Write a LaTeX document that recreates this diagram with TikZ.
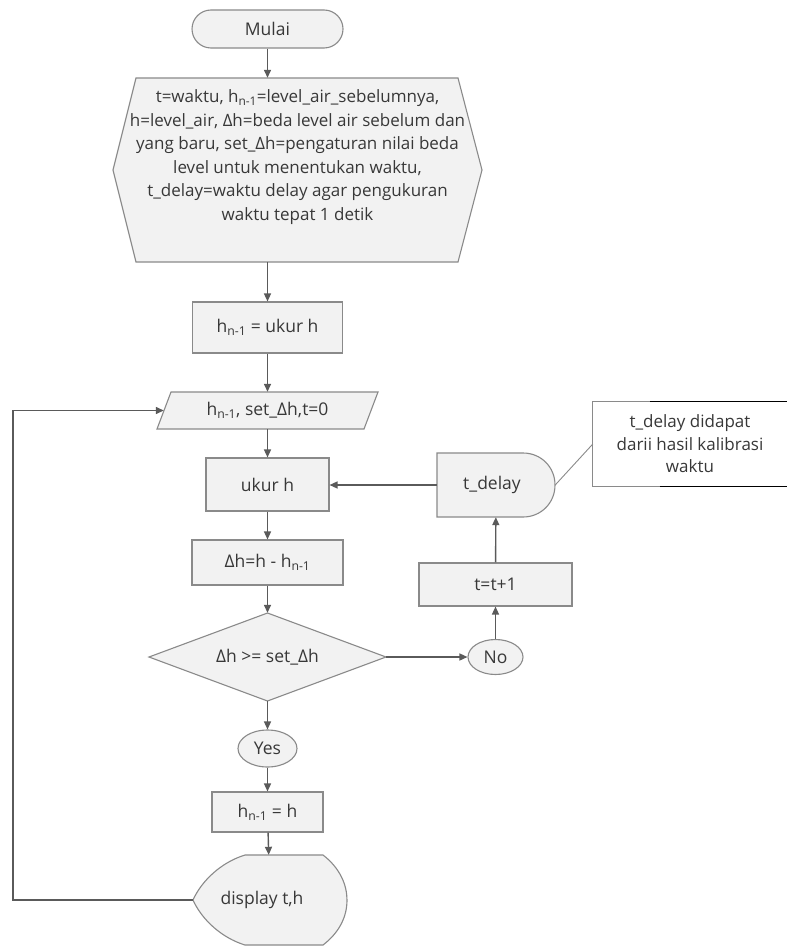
\documentclass[tikz,border=0pt]{standalone}
\usepackage{fontspec}
\setmainfont{Open Sans}
\usetikzlibrary{arrows.meta,shapes.geometric}
\definecolor{edgec}{HTML}{8A8A8A}
\definecolor{arrc}{HTML}{5A5A5A}
\definecolor{txtc}{HTML}{383838}
\definecolor{fillg}{HTML}{F2F2F2}
\newcommand{\nsub}{\textsubscript{n-1}}
\begin{document}
\begin{tikzpicture}[x=1pt,y=-1pt,
  base/.style={font=\fontsize{17.5}{21}\selectfont, text=txtc, inner sep=0pt},
  shp/.style={base, draw=edgec, fill=fillg, line width=1.1pt},
  ghost/.style={base, draw=none, fill=none},
  outline/.style={draw=edgec, fill=fillg, line width=1.1pt},
  flow/.style={draw=arrc, line width=1.4pt, -{Triangle[length=8pt,width=7pt]}},
  thinline/.style={draw=edgec, line width=0.9pt}]
\useasboundingbox[fill=white] (0,0) rectangle (787,947);

% start
\node[shp, rounded corners=19pt, minimum width=151pt, minimum height=38pt] (mulai) at (267.5,29) {Mulai};

% preparation hexagon
\path[outline] (136,78) -- (458,78) -- (482,170) -- (458,262) -- (136,262) -- (113,170) -- cycle;
\node[ghost, minimum width=369pt, minimum height=184pt, align=center,
      font=\fontsize{17}{23.5}\selectfont] (hex) at (297.5,170)
  {t=waktu, h\nsub=level\_air\_sebelumnya,\\
   h=level\_air, Δh=beda level air sebelum dan\\
   yang baru, set\_Δh=pengaturan nilai beda\\
   level untuk menentukan waktu,\\
   t\_delay=waktu delay agar pengukuran\\
   waktu tepat 1 detik\\[6pt]\mbox{}};

\node[shp, minimum width=150pt, minimum height=51pt] (b1) at (267.5,327.5) {h\nsub{} = ukur h};

% input parallelogram
\path[outline] (171,392) -- (378,392) -- (364,429) -- (157,429) -- cycle;
\node[ghost, minimum width=207pt, minimum height=37pt] (para) at (267.5,410.5) {h\nsub, set\_Δh,t=0};

\node[shp, minimum width=123pt, minimum height=53pt] (ukur) at (267.5,484.5) {ukur h};
\node[shp, minimum width=151pt, minimum height=45pt] (dh) at (267.5,562.5) {Δh=h - h\nsub};

% decision
\path[outline] (267.5,613) -- (386,657) -- (267.5,701) -- (149,657) -- cycle;
\node[ghost, minimum width=237pt, minimum height=88pt] (dec) at (267.5,657) {Δh >= set\_Δh};

\node[shp, ellipse, minimum width=55pt, minimum height=35pt] (no) at (495.5,657) {No};
\node[shp, minimum width=153pt, minimum height=43pt] (tt) at (495.5,584.5) {t=t+1};

% delay shape
\path[outline] (437,453) -- (523,453) .. controls (541,453) and (555,467) .. (555,485)
  .. controls (555,503) and (541,517) .. (523,517) -- (437,517) -- cycle;
\node[ghost, minimum width=118pt, minimum height=64pt] (td) at (496,485) {\hspace*{-8pt}t\_delay};

% annotation
\node[ghost, minimum width=194pt, minimum height=84pt, align=center,
      font=\fontsize{17}{22.5}\selectfont] (note) at (690,444)
  {t\_delay didapat\\darii hasil kalibrasi\\waktu};
\draw[thinline] (note.north west) ++(57,0) -- (note.north west) -- (note.south west) -- ++(67,0);
\draw[black, line width=1.1pt] (note.north west) ++(57,0) -- (note.north east);
\draw[black, line width=1.1pt] (note.south west) ++(67,0) -- (note.south east);
\draw[thinline] (td.east) -- (note.west);

\node[shp, ellipse, minimum width=59pt, minimum height=37pt] (yes) at (267.5,748.5) {Yes};
\node[shp, minimum width=111pt, minimum height=40pt] (b2) at (267.5,812) {h\nsub{} = h};

% display shape
\path[outline] (245,855) -- (323,855) .. controls (340,868) and (347,885) .. (347,900)
  .. controls (347,916) and (340,932) .. (323,945) -- (245,945)
  .. controls (222,938) and (202,920) .. (193,900)
  .. controls (202,880) and (222,862) .. (245,855) -- cycle;
\node[ghost, minimum width=154pt, minimum height=90pt] (disp) at (270,900) {\hspace*{-16pt}display t,h};

% connectors
\draw[flow] (mulai.south) -- (mulai.south |- hex.north);
\draw[flow] (hex.south -| b1.north) -- (b1.north);
\draw[flow] (b1) -- (para);
\draw[flow] (para) -- (ukur);
\draw[flow] (ukur) -- (dh);
\draw[flow] (dh) -- (dec);
\draw[flow] (dec) -- (yes);
\draw[flow] (yes) -- (b2);
\draw[flow] (b2) -- (disp);
\draw[flow] (dec.east) -- (no);
\draw[flow] (no) -- (tt);
\draw[flow] (tt) -- (td);
\draw[flow] (td.west) -- (td.west -| ukur.east);
\draw[flow] (disp.west) -- ++(-180,0) |- (para.west);
\end{tikzpicture}
\end{document}
